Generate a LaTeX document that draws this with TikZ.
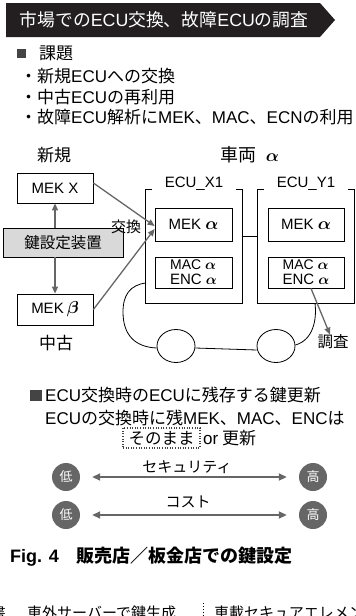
\documentclass[tikz,border=0pt]{standalone}
\usepackage{fontspec}
\setmainfont{Noto Sans CJK JP}
\newfontfamily\latf{Liberation Sans}
\newcommand\lt[1]{{\latf #1}}
\newcommand\setfz[1]{\fontsize{#1}{#1}\selectfont}
\newcommand\alf{{\boldmath$\alpha$}}
\usetikzlibrary{arrows.meta,shapes.geometric}
\definecolor{banner}{HTML}{231F20}
\definecolor{agray}{HTML}{666666}
\definecolor{boxgray}{HTML}{D9D9D9}
\definecolor{sqgray}{HTML}{444444}
\begin{document}
\begin{tikzpicture}[x=1pt,y=-1pt,
  txt/.style={inner sep=0pt},
  box/.style={draw=black,line width=0.8pt,inner sep=0pt,font=\latf\setfz{15}},
  garrow/.style={draw=agray,line width=1.3pt,-{Triangle[length=7pt,width=6pt]}},
  darrow/.style={draw=agray,line width=1.8pt,{Triangle[length=8pt,width=7pt]}-{Triangle[length=8pt,width=7pt]},shorten <=12pt,shorten >=12pt},
  circ/.style={circle,fill=agray,minimum size=28pt,inner sep=0pt,text=white,font=\setfz{13}},
  wheel/.style={draw=black,line width=0.8pt,ellipse,minimum width=38pt,minimum height=33pt,inner sep=0pt},
  frame/.style={inner sep=0pt,minimum width=96pt,minimum height=113pt},
  body/.style={draw=black,line width=0.8pt}
]
\useasboundingbox (0,0) rectangle (356,616);
% title banner
\fill[banner] (6,3) -- (320,3) -- (335,20) -- (320,37) -- (6,37) -- cycle;
\node[txt,text=white,font=\setfz{17.8}] (title) at (164,20) {市場での\lt{ECU}交換、故障\lt{ECU}の調査};
% issues
\fill[sqgray] (17,49) rectangle (25.5,57.5);
\node[txt,anchor=west,font=\setfz{17}] (kadai) at (39,53) {課題};
\node[txt,anchor=west,font=\setfz{17}] (l1) at (20,76) {・新規\lt{ECU}への交換};
\node[txt,anchor=west,font=\setfz{17}] (l2) at (20,97) {・中古\lt{ECU}の再利用};
\node[txt,anchor=west,font=\setfz{17}] (l3) at (20,117) {・故障\lt{ECU}解析に\lt{MEK}、\lt{MAC}、\lt{ECN}の利用};
% left side
\node[txt,font=\setfz{17}] (shinki) at (54,155) {新規};
\node[txt,font=\setfz{17}] (chuko) at (56,343) {中古};
\node[box,minimum width=76pt,minimum height=30pt] (mekx) at (55,188) {MEK X};
\node[box,fill=boxgray,minimum width=120pt,minimum height=29pt,font=\setfz{15.5}] (keydev) at (63,242.5) {鍵設定装置};
\node[box,minimum width=76pt,minimum height=31pt] (mekb) at (55,309.5) {MEK\hspace{3pt}{\setfz{18}\boldmath$\beta$}};
\draw[garrow] (keydev.north -| mekx.south) -- (mekx.south);
\draw[garrow] (keydev.south -| mekb.north) -- (mekb.north);
% vehicle
\node[txt,font=\setfz{18}] (sharyo) at (250,155) {車両\hspace{9pt}{\setfz{16}\alf}};
\node[frame] (fx) at (194,246.5) {};
\node[frame] (fy) at (306,246.5) {};
\draw[body] ([xshift=6pt]fx.north west) -- (fx.north west) -- (fx.south west) -- (fx.south east) -- (fx.north east) -- ([xshift=-6pt]fx.north east);
\draw[body] ([xshift=6pt]fy.north west) -- (fy.north west) -- (fy.south west) -- (fy.south east) -- (fy.north east) -- ([xshift=-6pt]fy.north east);
\node[txt,font=\latf\setfz{15}] (ecux) at (194,184) {ECU\_X1};
\node[txt,font=\latf\setfz{15}] (ecuy) at (306,184) {ECU\_Y1};
\draw[body] ([yshift=10.5pt]fx.east) -- ([yshift=10.5pt]fy.west);
\node[box,minimum width=77pt,minimum height=33pt] (ma1) at (193.5,224.5) {MEK {\setfz{16}\alf}};
\node[box,minimum width=77pt,minimum height=31pt,align=left] (mc1) at (193.5,272.5) {\setfz{14}MAC {\setfz{15}\alf}\\ENC {\setfz{15}\alf}};
\node[box,minimum width=76pt,minimum height=33pt] (ma2) at (306,224.5) {MEK {\setfz{16}\alf}};
\node[box,minimum width=76pt,minimum height=31pt,align=left] (mc2) at (306,272.5) {\setfz{14}MAC {\setfz{15}\alf}\\ENC {\setfz{15}\alf}};
\draw[garrow] ([yshift=5pt]mekx.east) -- ([yshift=-1.5pt]ma1.west);
\draw[garrow] (mekb.east) -- ([yshift=-4.5pt]ma1.west);
\node[txt,font=\setfz{15}] (kokan) at (126,227) {交換};
\node[txt,font=\setfz{15.5}] (chosa) at (333,342) {調査};
\draw[garrow] ([xshift=5pt]mc2.south) -- ([xshift=-3pt]chosa.north);
% car body
\node[wheel] (w1) at (176,346) {};
\node[wheel] (w2) at (276,346) {};
\draw[body] ([yshift=-36.5pt]fx.west) .. controls (130,285) and (123,295) .. (123,312) .. controls (123,335) and (135,347) .. ([yshift=-2pt]w1.west);
\draw[body] ([yshift=-2pt]w1.east) -- ([yshift=-4pt]w2.west);
\draw[body] ([xshift=9pt]fy.south) .. controls (317,320) and (313,340) .. ([yshift=1pt]w2.east);
% lower text
\fill[sqgray] (30,389.5) rectangle (41.5,401);
\node[txt,anchor=west,font=\setfz{17}] (u1) at (45,395) {\lt{ECU}交換時の\lt{ECU}に残存する鍵更新};
\node[txt,anchor=west,font=\setfz{17}] (u2) at (45,418) {\lt{ECU}の交換時に残\lt{MEK}、\lt{MAC}、\lt{ENC}は};
\node[draw=sqgray,line width=1.2pt,dash pattern=on 1pt off 1.6pt,minimum width=77pt,minimum height=20pt,inner sep=0pt,font=\setfz{16.5}] (sono) at (161.5,438) {そのまま};
\node[txt,anchor=west,font=\setfz{17}] (orup) at (203,438) {\lt{or} 更新};
\node[txt,font=\setfz{15}] (sec) at (187,467) {セキュリティ};
\node[circ] (lo1) at (66,477) {低};
\node[circ] (hi1) at (313,477) {高};
\draw[darrow] (lo1) -- (hi1);
\node[txt,font=\setfz{15}] (cost) at (188,502) {コスト};
\node[circ] (lo2) at (66,515) {低};
\node[circ] (hi2) at (313,515) {高};
\draw[darrow] (lo2) -- (hi2);
% caption
\node[txt,anchor=west,font=\bfseries\setfz{18}] (fig) at (10,557) {\lt{\bfseries Fig. 4}　販売店／板金店での鍵設定};
% cut-off next line (cut by the picture's lower edge, as in the reference)
\begin{scope}
\clip (0,0) rectangle (356,616);
\node[txt,anchor=east,font=\setfz{15}] (b1) at (6,613) {書};
\node[txt,anchor=west,font=\setfz{15}] (b2) at (27,613) {車外サーバーで鍵生成};
\node[txt,anchor=west,font=\setfz{15}] (b3) at (214,613) {車載セキュアエレメント};
\coordinate (sepa) at (203,603);
\coordinate (sepb) at (203,622);
\draw[line width=1pt,dash pattern=on 1pt off 2pt] (sepa) -- (sepb);
\end{scope}
\end{tikzpicture}
\end{document}
